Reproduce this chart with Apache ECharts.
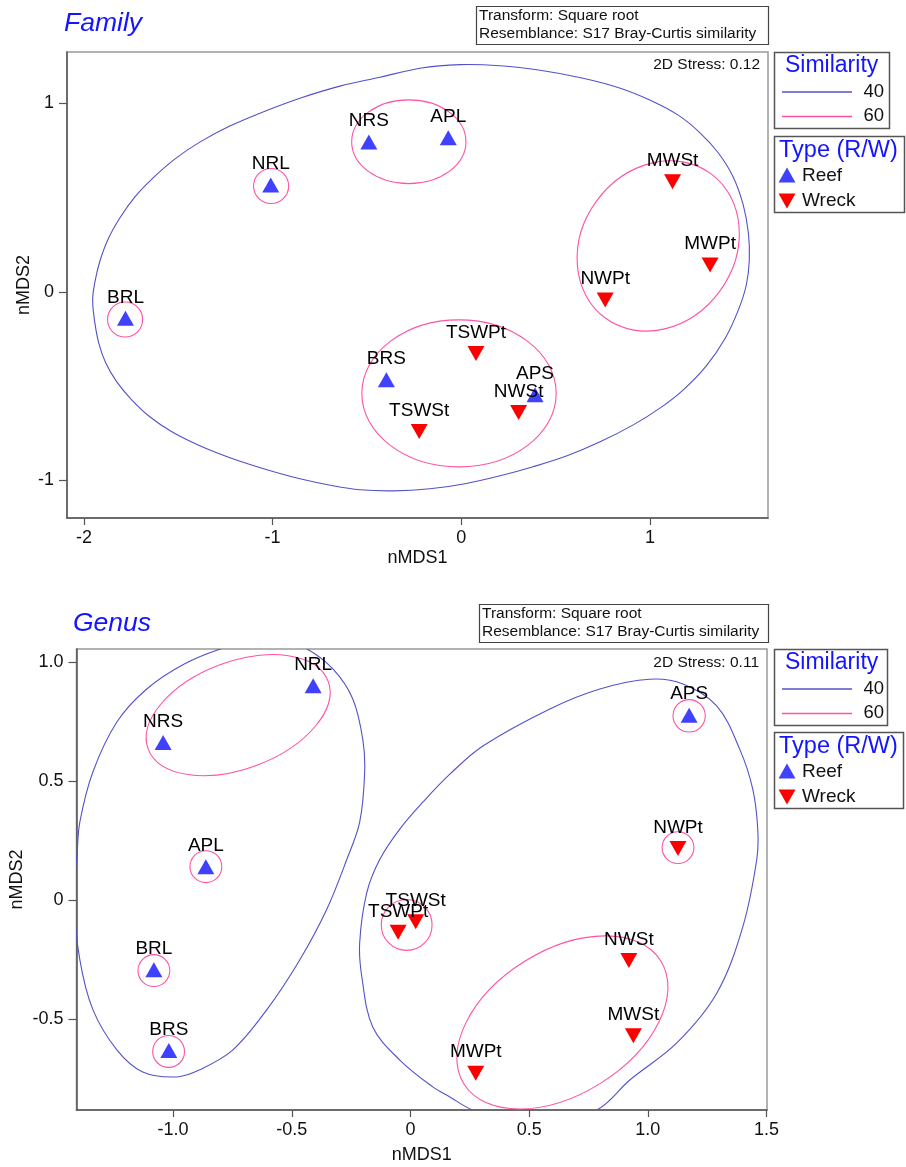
<!DOCTYPE html>
<html><head><meta charset="utf-8">
<script src="https://cdn.jsdelivr.net/npm/echarts@6/dist/echarts.min.js"></script>
<style>html,body{margin:0;padding:0;background:#fff}#c{width:906px;height:1167px}</style>
</head><body><div id="c"></div>
<script>
// ---------------- DATA ----------------
// Family nMDS
const familyNames = ['NRS','APL','NRL','BRL','BRS','TSWSt','TSWPt','NWSt','APS','NWPt','MWPt','MWSt'];
const familyTypes = ['Reef','Reef','Reef','Reef','Reef','Wreck','Wreck','Wreck','Reef','Wreck','Wreck','Wreck'];
const familyX = [-0.49, -0.069, -1.01, -1.78, -0.397, -0.223, 0.078, 0.304, 0.391, 0.763, 1.319, 1.12];
const familyY = [0.795, 0.818, 0.567, -0.14, -0.466, -0.74, -0.327, -0.64, -0.545, -0.042, 0.143, 0.585];
const familyXTicks = [-2, -1, 0, 1];
const familyYTicks = [-1, 0, 1];
// 40% similarity contour outline
const familyContour40 = [[-1.954,-0.042],[-1.943,0.048],[-1.917,0.159],[-1.874,0.276],[-1.810,0.392],[-1.731,0.503],[-1.635,0.604],[-1.519,0.705],[-1.386,0.795],[-1.227,0.880],[-1.041,0.959],[-0.855,1.028],[-0.643,1.092],[-0.431,1.139],[-0.219,1.187],[-0.006,1.206],[0.206,1.200],[0.418,1.176],[0.646,1.134],[0.843,1.081],[1.002,1.017],[1.150,0.938],[1.267,0.843],[1.363,0.737],[1.442,0.609],[1.495,0.461],[1.522,0.313],[1.527,0.170],[1.511,0.037],[1.469,-0.095],[1.400,-0.244],[1.299,-0.392],[1.177,-0.519],[1.055,-0.615],[0.912,-0.705],[0.736,-0.795],[0.561,-0.869],[0.381,-0.927],[0.206,-0.975],[0.020,-1.017],[-0.166,-1.044],[-0.362,-1.055],[-0.537,-1.049],[-0.680,-1.028],[-0.855,-0.991],[-1.030,-0.943],[-1.211,-0.885],[-1.386,-0.816],[-1.534,-0.742],[-1.651,-0.662],[-1.747,-0.572],[-1.826,-0.477],[-1.885,-0.376],[-1.922,-0.270],[-1.943,-0.159]];
// 60% similarity ellipses: [cx, cy, rx, ry, tilt in degrees]
const familyEllipses60 = [[-1.008,0.562,0.093,0.093,0],[-1.782,-0.146,0.093,0.093,0],[-0.278,0.797,0.303,0.222,0],[-0.012,-0.538,0.515,0.390,0],[1.044,0.244,0.474,0.405,54]];

// Genus nMDS
const genusNames = ['NRS','NRL','APL','BRL','BRS','TSWPt','TSWSt','APS','NWPt','NWSt','MWSt','MWPt'];
const genusTypes = ['Reef','Reef','Reef','Reef','Reef','Wreck','Wreck','Reef','Wreck','Wreck','Wreck','Wreck'];
const genusX = [-1.042,-0.410,-0.862,-1.081,-1.018,-0.052,0.022,1.174,1.127,0.920,0.939,0.275];
const genusY = [0.663,0.902,0.141,-0.292,-0.632,-0.135,-0.091,0.778,0.217,-0.254,-0.570,-0.727];
const genusXTicks = [-1.0,-0.5,0,0.5,1.0,1.5];
const genusYTicks = [-0.5,0,0.5,1.0];
const genusContour40Left = [[-0.593,1.112],[-0.445,1.061],[-0.327,0.972],[-0.243,0.846],[-0.201,0.677],[-0.193,0.538],[-0.214,0.328],[-0.268,0.172],[-0.353,-0.039],[-0.466,-0.250],[-0.605,-0.460],[-0.748,-0.629],[-0.888,-0.713],[-0.985,-0.743],[-1.128,-0.722],[-1.237,-0.629],[-1.338,-0.460],[-1.393,-0.250],[-1.418,0.003],[-1.405,0.185],[-1.393,0.328],[-1.338,0.539],[-1.237,0.749],[-1.111,0.888],[-0.951,0.994],[-0.786,1.061]];
const genusContour40Right = [[1.008,0.929],[1.148,0.909],[1.291,0.816],[1.387,0.635],[1.442,0.467],[1.463,0.299],[1.459,0.172],[1.400,-0.112],[1.291,-0.390],[1.122,-0.600],[0.924,-0.756],[0.785,-0.882],[0.524,-0.958],[0.262,-0.882],[0.166,-0.827],[0.094,-0.785],[-0.045,-0.672],[-0.159,-0.533],[-0.205,-0.322],[-0.214,-0.179],[-0.184,0.032],[-0.129,0.172],[-0.045,0.299],[0.061,0.422],[0.166,0.530],[0.305,0.648],[0.587,0.804],[0.798,0.888]];
const genusEllipses60 = [[-0.862,0.141,0.067,0.067,0],[-1.081,-0.296,0.067,0.067,0],[-1.019,-0.636,0.067,0.067,0],[-0.016,-0.104,0.107,0.107,0],[1.174,0.775,0.068,0.068,0],[1.127,0.221,0.067,0.067,0],[-0.726,0.778,0.405,0.225,20.7],[0.640,-0.514,0.489,0.302,32]];

// ---------------- STYLE ----------------
const FONT = "'Liberation Sans', Arial, sans-serif";
const BLUE40 = '#5252c8';
const PINK60 = '#ff52a3';
const REEF = '#4040ff';
const WRECK = '#ff0000';
const TITLE_BLUE = '#1414ff';
const DOWN_TRI = 'path://M0,0L20,0L10,17.3Z';

function pointData(names, xs, ys, types, t) {
  const out = [];
  names.forEach((n, i) => { if (types[i] === t) out.push({ name: n, value: [xs[i], ys[i]] }); });
  return out;
}

function contourSeries(gi, polys) {
  return {
    type: 'custom', xAxisIndex: gi, yAxisIndex: gi, clip: true, silent: true, z: 1,
    data: polys.map((p, i) => ({ value: [p.pts[0][0], p.pts[0][1], i] })),
    renderItem: function (params, api) {
      const p = polys[params.dataIndex];
      const pts = p.pts.map(q => api.coord(q));
      return { type: 'polygon', shape: { points: pts, smooth: 0.35 },
        style: { fill: 'none', stroke: p.color, lineWidth: 1.1 } };
    }
  };
}
function ellipseSeries(gi, ells) {
  return {
    type: 'custom', xAxisIndex: gi, yAxisIndex: gi, clip: true, silent: true, z: 1,
    data: ells, encode: { x: 0, y: 1 },
    renderItem: function (params, api) {
      const c = api.coord([api.value(0), api.value(1)]);
      const s = api.size([api.value(2), api.value(3)]);
      return { type: 'ellipse', x: c[0], y: c[1], rotation: api.value(4) * Math.PI / 180,
        shape: { cx: 0, cy: 0, rx: s[0], ry: s[1] },
        style: { fill: 'none', stroke: PINK60, lineWidth: 1.1 } };
    }
  };
}
function scatterSeries(gi, names, xs, ys, types, t) {
  return {
    type: 'scatter', xAxisIndex: gi, yAxisIndex: gi, z: 3,
    name: t,
    symbol: t === 'Reef' ? 'triangle' : DOWN_TRI,
    symbolSize: [17, 15],
    itemStyle: { color: t === 'Reef' ? REEF : WRECK, opacity: 1 },
    label: { show: true, position: 'top', distance: 4, formatter: '{b}', color: '#000', fontSize: 19, fontFamily: FONT },
    data: pointData(names, xs, ys, types, t)
  };
}
function xAxis(gi, min, max, ticks, fmt, gap) {
  return {
    gridIndex: gi, type: 'value', min: min, max: max,
    name: 'nMDS1', nameLocation: 'middle', nameGap: gap,
    nameTextStyle: { fontSize: 18, color: '#111', fontFamily: FONT },
    axisLine: { onZero: false, lineStyle: { color: '#555', width: 1.5 } },
    axisTick: { customValues: ticks, length: 7, lineStyle: { color: '#555', width: 1.2 } },
    axisLabel: { customValues: ticks, margin: 11, fontSize: 18, color: '#111', fontFamily: FONT, formatter: fmt },
    splitLine: { show: false }
  };
}
function yAxis(gi, min, max, ticks, fmt, gap) {
  return {
    gridIndex: gi, type: 'value', min: min, max: max,
    name: 'nMDS2', nameLocation: 'middle', nameGap: gap, nameMoveOverlap: false,
    nameTextStyle: { fontSize: 18, color: '#111', fontFamily: FONT },
    axisLine: { onZero: false, lineStyle: { color: '#555', width: 1.5 } },
    axisTick: { customValues: ticks, length: 8, lineStyle: { color: '#555', width: 1.2 } },
    axisLabel: { customValues: ticks, margin: 13, fontSize: 18, color: '#111', fontFamily: FONT, formatter: fmt },
    splitLine: { show: false }
  };
}
const fmtInt = v => String(v);
const fmtHalf = v => (v === 0 ? '0' : v.toFixed(1));

function txt(x, y, text, font, fill, align) {
  return { type: 'text', x: x, y: y, silent: true,
    style: { text: text, font: font, fill: fill || '#111', align: align || 'left', verticalAlign: 'middle' } };
}
function boxes(o) {
  const els = [];
  const f15 = '15.5px ' + FONT;
  els.push({ type: 'rect', silent: true, shape: { x: o.t[0] + 0.5, y: o.t[1] + 0.5, width: o.t[2], height: o.t[3] }, style: { fill: '#fff', stroke: '#444', lineWidth: 1.2 } });
  els.push(txt(o.t[0] + 3, o.t[1] + 9.5, 'Transform: Square root', f15));
  els.push(txt(o.t[0] + 3, o.t[1] + 27.5, 'Resemblance: S17 Bray-Curtis similarity', f15));
  els.push(txt(o.stress[0], o.stress[1], o.stressText, f15, '#111', 'right'));
  const s = o.sim;
  els.push({ type: 'rect', silent: true, shape: { x: s[0] + 0.5, y: s[1] + 0.5, width: s[2], height: s[3] }, style: { fill: '#fff', stroke: '#555', lineWidth: 1.5 } });
  els.push(txt(s[0] + 11, s[1] + 13.5, 'Similarity', '23px ' + FONT, TITLE_BLUE));
  els.push({ type: 'line', silent: true, shape: { x1: s[0] + 8, y1: s[1] + 40, x2: s[0] + 78, y2: s[1] + 40 }, style: { stroke: BLUE40, lineWidth: 1.5 } });
  els.push(txt(s[0] + 110, s[1] + 40, '40', '18.5px ' + FONT, '#111', 'right'));
  els.push({ type: 'line', silent: true, shape: { x1: s[0] + 8, y1: s[1] + 64.5, x2: s[0] + 78, y2: s[1] + 64.5 }, style: { stroke: PINK60, lineWidth: 1.5 } });
  els.push(txt(s[0] + 110, s[1] + 64, '60', '18.5px ' + FONT, '#111', 'right'));
  const t = o.type;
  els.push({ type: 'rect', silent: true, shape: { x: t[0] + 0.5, y: t[1] + 0.5, width: t[2], height: t[3] }, style: { fill: '#fff', stroke: '#555', lineWidth: 1.5 } });
  els.push(txt(t[0] + 5, t[1] + 14.5, 'Type (R/W)', '23.5px ' + FONT, TITLE_BLUE));
  const rx = t[0] + 13, ry = t[1] + 39.5;
  els.push({ type: 'polygon', silent: true, shape: { points: [[rx - 8.5, ry + 7], [rx + 8.5, ry + 7], [rx, ry - 8]] }, style: { fill: REEF } });
  els.push(txt(t[0] + 28, t[1] + 40, 'Reef', '19px ' + FONT));
  const wy = t[1] + 64.5;
  els.push({ type: 'polygon', silent: true, shape: { points: [[rx - 8.5, wy - 7], [rx + 8.5, wy - 7], [rx, wy + 8]] }, style: { fill: WRECK } });
  els.push(txt(t[0] + 28, t[1] + 64.5, 'Wreck', '19px ' + FONT));
  return els;
}

const graphics = [].concat(
  [txt(64, 24, 'Family', 'italic 26.5px ' + FONT, TITLE_BLUE), txt(73, 624, 'Genus', 'italic 26.5px ' + FONT, TITLE_BLUE)],
  boxes({ t: [476, 6, 292, 38], stress: [760, 65], stressText: '2D Stress: 0.12', sim: [774, 52, 115, 76], type: [774, 136, 130, 76] }),
  boxes({ t: [479, 604, 289, 38], stress: [759, 662.5], stressText: '2D Stress: 0.11', sim: [774, 649, 113, 76], type: [774, 732, 129, 76] })
);

const chart = echarts.init(document.getElementById('c'), null, { renderer: 'canvas' });
chart.setOption({
  animation: false,
  backgroundColor: '#fff',
  grid: [
    { left: 67, top: 52, width: 701, height: 466, show: true, borderColor: '#999', borderWidth: 1.5 },
    { left: 76, top: 649, width: 691, height: 461, show: true, borderColor: '#999', borderWidth: 1.5 }
  ],
  xAxis: [
    xAxis(0, -2.090, 1.626, familyXTicks, fmtInt, 31),
    xAxis(1, -1.407, 1.502, genusXTicks, fmtHalf, 36)
  ],
  yAxis: [
    yAxis(0, -1.199, 1.273, familyYTicks, fmtInt, 34),
    yAxis(1, -0.882, 1.056, genusYTicks, fmtHalf, 50.5)
  ],
  graphic: { elements: graphics },
  series: [
    contourSeries(0, [{ pts: familyContour40, color: BLUE40 }]),
    ellipseSeries(0, familyEllipses60),
    scatterSeries(0, familyNames, familyX, familyY, familyTypes, 'Reef'),
    scatterSeries(0, familyNames, familyX, familyY, familyTypes, 'Wreck'),
    contourSeries(1, [{ pts: genusContour40Left, color: BLUE40 }, { pts: genusContour40Right, color: BLUE40 }]),
    ellipseSeries(1, genusEllipses60),
    scatterSeries(1, genusNames, genusX, genusY, genusTypes, 'Reef'),
    scatterSeries(1, genusNames, genusX, genusY, genusTypes, 'Wreck')
  ]
});
</script>
</body></html>
